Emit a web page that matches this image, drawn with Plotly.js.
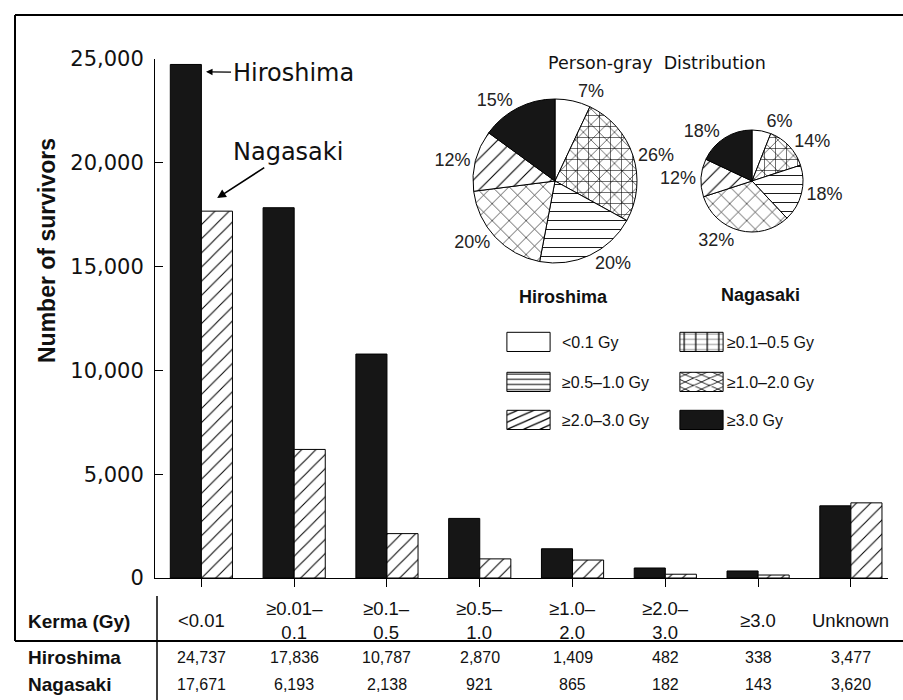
<!DOCTYPE html>
<html>
<head>
<meta charset="utf-8">
<script src="https://cdn.plot.ly/plotly-3.0.1.min.js"></script>
<style>
html,body{margin:0;padding:0;background:#fff;}
/* widen the legend key boxes into the flat rectangles of the original figure */
#chart .legendpoints path { transform: translate(26.5px, 0px) scale(3.6, 1.6); vector-effect: non-scaling-stroke; }
#chart .traces:nth-child(2) .legendpoints path { transform: translate(34.5px, 0px) scale(3.6, 1.6); }
</style>
</head>
<body>
<div id="chart" style="width:903px;height:700px;"></div>
<script>
// ---------- data ----------
const categories = ['<0.01', '≥0.01–0.1', '≥0.1–0.5', '≥0.5–1.0', '≥1.0–2.0', '≥2.0–3.0', '≥3.0', 'Unknown'];
const kermaLabels = ['&lt;0.01', '≥0.01–<br>0.1', '≥0.1–<br>0.5', '≥0.5–<br>1.0', '≥1.0–<br>2.0', '≥2.0–<br>3.0', '≥3.0', 'Unknown'];
const hiroshima = [24737, 17836, 10787, 2870, 1409, 482, 338, 3477];
const nagasaki  = [17671, 6193, 2138, 921, 865, 182, 143, 3620];
const yTicks = [0, 5000, 10000, 15000, 20000, 25000];

const doseClasses = ['&lt;0.1 Gy', '≥0.1–0.5 Gy', '≥0.5–1.0 Gy', '≥1.0–2.0 Gy', '≥2.0–3.0 Gy', '≥3.0 Gy'];
const hiroshimaPct = [7, 26, 20, 20, 12, 15];
const nagasakiPct  = [6, 14, 18, 32, 12, 18];

// ---------- geometry helpers (layout only) ----------
const W = 903, H = 700, L = 155, R = 15, T = 59, B = 122;
const PW = W - L - R, PH = H - T - B;
const px = p => (p - L) / PW;
const py = p => (H - B - p) / PH;

const BLACK = '#161616';
const sliceColors = ['#ffffff', '#ffffff', '#ffffff', '#ffffff', '#ffffff', BLACK];
const slicePatterns = ['', '+', '-', 'x', '/', ''];
const sliceSizes = [9, 11, 9, 12, 11, 9];
const overlayPatterns = ['', 'x', '', '', '', ''];

function pieTrace(vals, dom) {
  return {
    type: 'pie', labels: doseClasses, values: vals, sort: false,
    direction: 'clockwise', rotation: 0, domain: dom,
    marker: {
      colors: sliceColors,
      line: {color: '#000', width: 1},
      pattern: {shape: slicePatterns, fgcolor: '#000', bgcolor: '#fff', size: sliceSizes, solidity: 0.1}
    },
    texttemplate: '%{value}%', textposition: 'outside',
    textfont: {family: 'Liberation Sans, Arial, sans-serif', size: 18, color: '#222'},
    hoverinfo: 'label+value', showlegend: false
  };
}
function pieOverlay(vals, dom) {
  return {
    type: 'pie', labels: doseClasses, values: vals, sort: false,
    direction: 'clockwise', rotation: 0, domain: dom,
    marker: {
      colors: doseClasses.map(() => 'rgba(0,0,0,0)'),
      line: {width: 0},
      pattern: {shape: overlayPatterns, fgcolor: '#000', bgcolor: 'rgba(0,0,0,0)', size: 11, solidity: 0.1}
    },
    textinfo: 'none', hoverinfo: 'skip', showlegend: false
  };
}

const domH = {x: [px(473), px(637)], y: [py(263), py(99)]};
const domN = {x: [px(701), px(803)], y: [py(232), py(130)]};

const traces = [
  {
    type: 'bar', x: categories, y: hiroshima, name: 'Hiroshima',
    marker: {color: BLACK, line: {color: '#000', width: 1}},
    showlegend: false, hoverinfo: 'x+y'
  },
  {
    type: 'bar', x: categories, y: nagasaki, name: 'Nagasaki',
    marker: {color: '#fff', line: {color: '#000', width: 1},
             pattern: {shape: '/', fgcolor: '#000', bgcolor: '#fff', size: 10, solidity: 0.1}},
    showlegend: false, hoverinfo: 'x+y'
  },
  pieTrace(hiroshimaPct, domH),
  pieOverlay(hiroshimaPct, domH),
  pieTrace(nagasakiPct, domN),
  pieOverlay(nagasakiPct, domN)
];

// legend keys for the dose classes (2 per legend row), on a hidden axis pair
const legendIds = ['legend', 'legend', 'legend2', 'legend2', 'legend3', 'legend3'];
doseClasses.forEach((name, i) => {
  traces.push({
    type: 'bar', x: [name], y: [null], name: name, xaxis: 'x2', yaxis: 'y2',
    legend: legendIds[i], showlegend: true, hoverinfo: 'skip',
    marker: {color: sliceColors[i], line: {color: '#000', width: 1},
             pattern: {shape: slicePatterns[i], fgcolor: '#000', bgcolor: sliceColors[i], size: 4, solidity: 0.2}}
  });
});

const tickFont = {family: 'DejaVu Sans, Verdana, sans-serif', size: 21, color: '#111'};
const headFont = {family: 'Liberation Sans, Arial, sans-serif', size: 18.5, color: '#111'};
const numFont = {family: 'Liberation Sans, Arial, sans-serif', size: 16, color: '#111'};
const tabBold = {family: 'Liberation Sans, Arial, sans-serif', size: 19, color: '#111', weight: 'bold'};
const calloutFont = {family: 'DejaVu Sans, Verdana, sans-serif', size: 24, color: '#111'};

const annotations = [];
kermaLabels.forEach((t, i) => {
  annotations.push({x: i, xref: 'x', y: py(620), yref: 'paper', text: t, showarrow: false,
    xanchor: 'center', yanchor: 'middle', font: headFont, align: 'center'});
  annotations.push({x: i, xref: 'x', y: py(657), yref: 'paper', text: hiroshima[i].toLocaleString('en-US'),
    showarrow: false, xanchor: 'center', yanchor: 'middle', font: numFont});
  annotations.push({x: i, xref: 'x', y: py(684), yref: 'paper', text: nagasaki[i].toLocaleString('en-US'),
    showarrow: false, xanchor: 'center', yanchor: 'middle', font: numFont});
});
annotations.push({x: px(26), xref: 'paper', y: py(621), yref: 'paper', text: 'Kerma (Gy)', showarrow: false,
  xanchor: 'left', yanchor: 'middle', font: tabBold});
annotations.push({x: px(26), xref: 'paper', y: py(657), yref: 'paper', text: 'Hiroshima', showarrow: false,
  xanchor: 'left', yanchor: 'middle', font: tabBold});
annotations.push({x: px(26), xref: 'paper', y: py(684), yref: 'paper', text: 'Nagasaki', showarrow: false,
  xanchor: 'left', yanchor: 'middle', font: tabBold});
annotations.push({x: px(47), xref: 'paper', y: py(251), yref: 'paper', text: 'Number of survivors',
  textangle: -90, showarrow: false, xanchor: 'center', yanchor: 'middle',
  font: {family: 'Liberation Sans, Arial, sans-serif', size: 23, color: '#111', weight: 'bold'}});
annotations.push({x: 0.05, xref: 'x', y: 24380, yref: 'y', text: 'Hiroshima', showarrow: true,
  ax: 87, ay: 1, axref: 'pixel', ayref: 'pixel', arrowhead: 2, arrowsize: 1, arrowwidth: 1.3, arrowcolor: '#000',
  font: calloutFont});
annotations.push({x: 0.17, xref: 'x', y: 18300, yref: 'y', text: 'Nagasaki', showarrow: true,
  ax: 71, ay: -46, axref: 'pixel', ayref: 'pixel', arrowhead: 2, arrowsize: 1.1, arrowwidth: 1.6, arrowcolor: '#000',
  font: calloutFont});
annotations.push({x: px(657), xref: 'paper', y: py(63), yref: 'paper', text: 'Person-gray  Distribution', showarrow: false,
  xanchor: 'center', yanchor: 'middle', font: {family: 'DejaVu Sans, Verdana, sans-serif', size: 17.5, color: '#111'}});
annotations.push({x: px(563), xref: 'paper', y: py(297), yref: 'paper', text: 'Hiroshima', showarrow: false,
  xanchor: 'center', yanchor: 'middle', font: {family: 'Liberation Sans, Arial, sans-serif', size: 18, color: '#111', weight: 'bold'}});
annotations.push({x: px(760), xref: 'paper', y: py(295), yref: 'paper', text: 'Nagasaki', showarrow: false,
  xanchor: 'center', yanchor: 'middle', font: {family: 'Liberation Sans, Arial, sans-serif', size: 18, color: '#111', weight: 'bold'}});

const lineStyle = {color: '#000', width: 2};
const shapes = [
  {type: 'line', xref: 'paper', yref: 'paper', x0: px(15), x1: px(903), y0: py(15), y1: py(15), line: lineStyle},
  {type: 'line', xref: 'paper', yref: 'paper', x0: px(15), x1: px(15), y0: py(15), y1: py(641), line: lineStyle},
  {type: 'line', xref: 'paper', yref: 'paper', x0: px(15), x1: px(903), y0: py(641), y1: py(641), line: lineStyle},
  {type: 'line', xref: 'paper', yref: 'paper', x0: px(157), x1: px(157), y0: py(596), y1: py(700), line: {color: '#000', width: 1.5}}
];

const legendBase = {
  orientation: 'h', xanchor: 'left', yanchor: 'middle', x: px(502),
  itemwidth: 50, entrywidth: 100, entrywidthmode: 'pixels',
  font: {family: 'Liberation Sans, Arial, sans-serif', size: 16, color: '#111'},
  bgcolor: 'rgba(0,0,0,0)', borderwidth: 0, traceorder: 'normal'
};

const layout = {
  width: W, height: H,
  margin: {l: L, r: R, t: T, b: B},
  paper_bgcolor: '#fff', plot_bgcolor: 'rgba(0,0,0,0)',
  barmode: 'group', bargap: 0.33, bargroupgap: 0,
  xaxis: {
    type: 'category', range: [-0.5, 7.4], showgrid: false, zeroline: false,
    showline: true, linecolor: '#000', linewidth: 1,
    ticks: 'outside', ticklen: 8, tickcolor: '#000', showticklabels: false, fixedrange: true
  },
  yaxis: {
    range: [0, 25000], tickvals: yTicks, tickformat: ',', showgrid: false, zeroline: false,
    showline: true, linecolor: '#000', linewidth: 1,
    ticks: 'inside', ticklen: 8, tickcolor: '#000', tickfont: tickFont, ticklabelstandoff: 6, fixedrange: true
  },
  xaxis2: {domain: [0, 0.01], anchor: 'y2', visible: false, fixedrange: true},
  yaxis2: {domain: [0, 0.01], anchor: 'x2', visible: false, fixedrange: true},
  legend:  Object.assign({}, legendBase, {y: py(342)}),
  legend2: Object.assign({}, legendBase, {y: py(382)}),
  legend3: Object.assign({}, legendBase, {y: py(420)}),
  annotations: annotations,
  shapes: shapes,
  showlegend: true
};

Plotly.newPlot('chart', traces, layout, {displayModeBar: false, staticPlot: true});
</script>
</body>
</html>
